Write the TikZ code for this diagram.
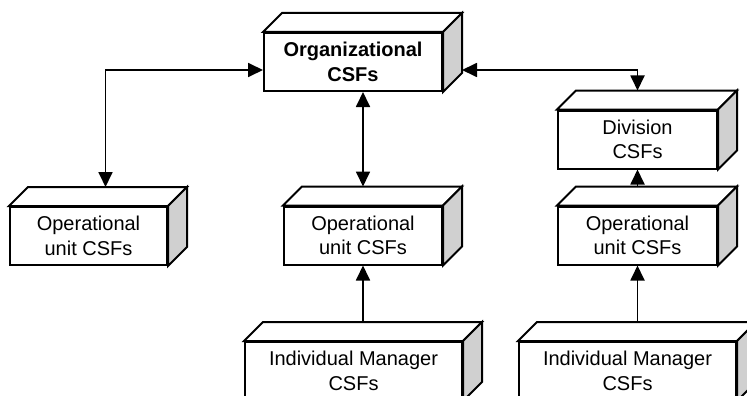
\documentclass[tikz,border=0pt]{standalone}
\usepackage{fontspec}
\setmainfont{Liberation Sans}
\usetikzlibrary{arrows.meta,calc}
\definecolor{sidegray}{RGB}{208,208,208}
\tikzset{
  front/.style={draw, line width=2pt, fill=white, minimum width=#1, minimum height=58pt, inner sep=0pt, align=center, font=\fontsize{20}{24.5}\selectfont},
  topface/.style={draw, line width=2pt, fill=white, line join=miter},
  sideface/.style={draw, line width=2pt, fill=sidegray, line join=miter},
  conn/.style={line width=1.8pt, -{Triangle[length=15pt,width=14pt]}},
  dconn/.style={line width=1.8pt, {Triangle[length=15pt,width=14pt]}-{Triangle[length=15pt,width=14pt]}},
}
\newcommand\cubebox[5]{%
  \node[front=#4pt] (#1) at (#2,#3) {#5};
  \draw[topface] (#1.north west) -- ++(19pt,19pt) -- ($(#1.north east)+(19pt,19pt)$) -- (#1.north east) -- cycle;
  \draw[sideface] (#1.north east) -- ++(19pt,19pt) -- ($(#1.south east)+(19pt,19pt)$) -- (#1.south east) -- cycle;
}
\begin{document}
\begin{tikzpicture}[x=1pt,y=-1pt]
\useasboundingbox (0,0) rectangle (747,396);
\clip (0,0) rectangle (747,396);
\cubebox{org}{353}{62}{178}{\textbf{Organizational}\\\textbf{CSFs}}
\cubebox{opL}{88.5}{236}{157}{Operational\\unit CSFs}
\cubebox{opM}{363}{235.5}{158}{Operational\\unit CSFs}
\cubebox{div}{637.5}{139.5}{159}{Division\\CSFs}
\cubebox{opR}{637.5}{235.5}{159}{Operational\\unit CSFs}
\cubebox{imL}{353.5}{371}{217}{Individual Manager\\CSFs}
\cubebox{imR}{627.5}{371}{217}{Individual Manager\\CSFs}
\draw[dconn] ([xshift=17pt,yshift=19pt]opL.north) |- ([yshift=-8pt]org.west);
\draw[dconn] (org.south -| opM.north) -- ([yshift=19pt]opM.north);
\draw[dconn] ([xshift=19pt,yshift=-8pt]org.east) -| ([yshift=19pt]div.north);
\draw[conn] ([yshift=19pt]opR.north) -- (div.south);
\draw[conn] ([yshift=19pt]imL.north -| opM.south) -- (opM.south);
\draw[conn] ([yshift=19pt]imR.north -| opR.south) -- (opR.south);
\end{tikzpicture}
\end{document}
